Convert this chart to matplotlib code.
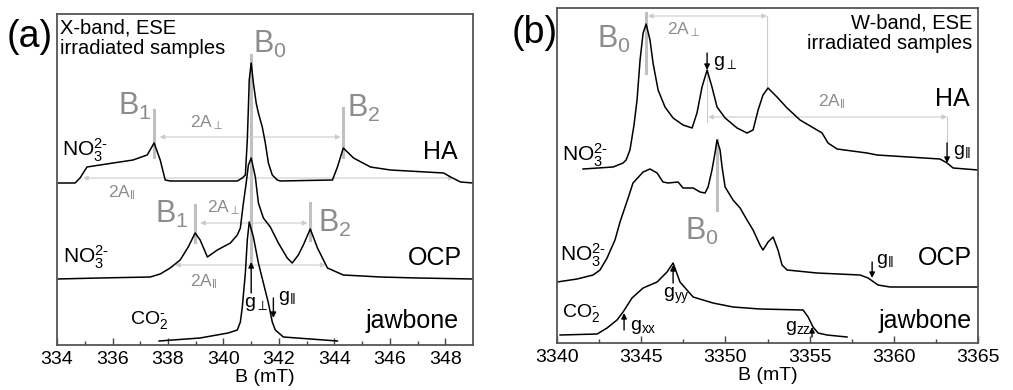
import matplotlib
matplotlib.use("Agg")
import matplotlib.pyplot as plt

plt.rcParams['font.family'] = ['Liberation Sans', 'DejaVu Sans']
plt.rcParams['mathtext.fontset'] = 'custom'
plt.rcParams['mathtext.rm'] = 'Liberation Sans'
plt.rcParams['mathtext.it'] = 'Liberation Sans'
plt.rcParams['mathtext.sf'] = 'Liberation Sans'

# ---- panel (a): X-band ESE spectra (B in mT, intensity in arbitrary units)
a_ha_B = [334.00, 334.65, 334.83, 335.08, 335.55, 336.74, 337.25, 337.50, 337.72, 337.90,
          338.08, 340.50, 340.68, 340.79, 340.86, 340.90, 340.93, 341.00, 341.08, 341.18,
          341.26, 341.40, 341.51, 341.62, 341.76, 341.94, 342.05, 343.93, 344.11, 344.32,
          344.69, 345.30, 346.02, 347.94, 348.19, 348.55, 349.00]
a_ha_I = [162, 162, 167, 178, 180, 185, 190, 202, 185, 165,
          164, 164, 167, 170, 205, 238, 265, 282, 262, 242,
          232, 218, 202, 182, 170, 165, 164, 165, 178, 197,
          187, 178, 175, 172, 168, 163, 162]

a_ocp_B = [334.00, 335.55, 337.36, 337.72, 338.08, 338.44, 338.73, 338.98, 339.16, 339.42,
           339.78, 340.25, 340.50, 340.61, 340.71, 340.82, 340.90, 341.00, 341.15, 341.26,
           341.44, 341.69, 341.98, 342.30, 342.48, 342.70, 342.88, 343.13, 343.39, 343.75,
           344.32, 345.66, 347.00, 349.00]
a_ocp_I = [66, 67, 68, 71, 77, 85, 98, 112, 105, 88,
           95, 102, 110, 117, 140, 162, 180, 187, 168, 142,
           127, 118, 102, 87, 82, 90, 100, 116, 97, 77,
           70, 68, 67, 66]

a_jaw_B = [337.68, 339.16, 340.17, 340.50, 340.61, 340.68, 340.79, 340.86, 340.93, 341.08,
           341.26, 341.44, 341.62, 341.76, 341.87, 342.16, 344.11]
a_jaw_I = [4, 7, 12, 15, 23, 38, 72, 105, 123, 108,
           82, 62, 42, 23, 15, 8, 4]

# ---- panel (b): W-band ESE spectra
b_ha_B = [3341.54, 3343.33, 3343.92, 3344.10, 3344.33, 3344.57, 3344.75, 3344.93, 3345.11, 3345.29,
          3345.52, 3345.70, 3346.00, 3346.41, 3346.89, 3347.48, 3348.02, 3348.31, 3348.61, 3348.91,
          3349.20, 3349.50, 3349.98, 3350.69, 3351.28, 3351.64, 3351.94, 3352.23, 3352.53, 3353.06,
          3353.66, 3354.43, 3355.74, 3356.09, 3356.63, 3358.41, 3359.00, 3362.74, 3363.16, 3363.52,
          3365.00]
b_ha_I = [174, 176, 180, 183, 193, 218, 243, 283, 310, 319,
          303, 280, 253, 236, 225, 218, 215, 230, 256, 273,
          256, 236, 225, 215, 210, 213, 233, 248, 255, 246,
          235, 223, 210, 200, 194, 190, 188, 184, 180, 175,
          173]

b_ocp_B = [3340.00, 3341.19, 3342.14, 3342.55, 3342.97, 3343.44, 3343.74, 3344.22, 3344.51, 3345.11,
           3345.52, 3345.94, 3346.29, 3346.59, 3347.19, 3347.48, 3348.08, 3348.49, 3348.79, 3348.97,
           3349.20, 3349.38, 3349.50, 3349.68, 3349.80, 3349.98, 3350.45, 3350.87, 3351.28, 3351.64,
           3352.05, 3352.23, 3352.53, 3352.83, 3353.12, 3353.36, 3353.66, 3355.44, 3357.99, 3358.47,
           3359.06, 3359.77, 3365.00]
b_ocp_I = [61, 64, 68, 73, 85, 103, 121, 145, 160, 171,
           174, 170, 161, 160, 161, 155, 155, 151, 150, 156,
           173, 190, 203, 193, 176, 156, 143, 135, 123, 113,
           98, 93, 101, 106, 93, 78, 73, 70, 68, 65,
           58, 56, 56]

b_jaw_B = [3340.18, 3342.38, 3342.97, 3343.56, 3343.92, 3344.45, 3345.11, 3345.94, 3346.53, 3346.89,
           3347.30, 3348.08, 3349.26, 3350.45, 3352.05, 3354.61, 3354.91, 3355.20, 3355.50, 3356.03,
           3357.22]
b_jaw_I = [8, 9, 15, 23, 31, 45, 55, 61, 71, 80,
           61, 46, 40, 36, 34, 33, 26, 16, 10, 8,
           6]

GRAY_TXT = '#8c8c8c'
GRAY_LINE = '#c0c0c0'
GRAY_ARR = '#cccccc'

FS_SAMPLE = 18   # HA / OCP / jawbone
FS_RAD = 15      # NO3 2-
FS_CO2 = 14
FS_B = 22
FS_A = 12.5
FS_G = 14

NO3 = r'NO$_3^{2\text{-}}$'
CO2 = r'CO$_2^{\text{-}}$'

fig = plt.figure(figsize=(10.13, 3.9), dpi=100)
axa = fig.add_axes([0.0563, 0.1154, 0.4107, 0.8487])
axb = fig.add_axes([0.5499, 0.1205, 0.4156, 0.8590])


def style_axis(ax, xlim, ylim, major, minor):
    ax.set_xlim(*xlim)
    ax.set_ylim(*ylim)
    ax.set_xticks(major)
    ax.set_xticks(minor, minor=True)
    ax.set_yticks([])
    ax.tick_params(axis='x', which='major', direction='in', length=5, width=1,
                   labelsize=14, pad=4, color='#444444')
    ax.tick_params(axis='x', which='minor', direction='in', length=3, width=1, color='#444444')
    for s in ax.spines.values():
        s.set_color('#555555')
        s.set_linewidth(1.3)
    ax.set_xlabel('B (mT)', fontsize=14, labelpad=1)


def vline(ax, x, y0, y1):
    ax.plot([x, x], [y0, y1], color=GRAY_LINE, lw=2.2, zorder=1)


def span_arrow(ax, x0, x1, y):
    ax.annotate('', xy=(x1, y), xytext=(x0, y),
                arrowprops=dict(arrowstyle='<|-|>', color=GRAY_ARR, lw=0.8,
                                mutation_scale=7, shrinkA=0, shrinkB=0), zorder=1)


def g_arrow(ax, x, y_tail, y_tip):
    ax.annotate('', xy=(x, y_tip), xytext=(x, y_tail),
                arrowprops=dict(arrowstyle='-|>', color='black', lw=1.0,
                                mutation_scale=8, shrinkA=0, shrinkB=0), zorder=3)


# ---------------- panel (a)
ax = axa
style_axis(ax, (334, 349), (0, 331), range(334, 349, 2), range(335, 349, 2))
for B, I in [(a_ha_B, a_ha_I), (a_ocp_B, a_ocp_I), (a_jaw_B, a_jaw_I)]:
    ax.plot(B, I, color='black', lw=1.1, zorder=2)

ax.text(334.1, 327, 'X-band, ESE\nirradiated samples', fontsize=14.5, va='top',
        ha='left', linespacing=1.1)
# HA
vline(ax, 337.50, 188, 235)
vline(ax, 341.00, 78, 290)
vline(ax, 344.32, 188, 237)
ax.text(336.20, 230, r'B$_1$', fontsize=FS_B, color=GRAY_TXT, va='baseline')
ax.text(341.08, 292, r'B$_0$', fontsize=FS_B, color=GRAY_TXT, va='baseline')
ax.text(344.47, 228, r'B$_2$', fontsize=FS_B, color=GRAY_TXT, va='baseline')
span_arrow(ax, 337.70, 344.22, 208)
ax.text(338.80, 222, r'2A$_\perp$', fontsize=FS_A, color=GRAY_TXT, va='center')
span_arrow(ax, 334.94, 348.30, 167)
ax.text(335.84, 152, r'2A$_{\Vert}$', fontsize=FS_A, color=GRAY_TXT, va='center')
ax.text(334.18, 195, NO3, fontsize=FS_RAD, va='center')
ax.text(347.83, 193, 'HA', fontsize=FS_SAMPLE, va='center', ha='center')
# OCP
vline(ax, 338.98, 103, 140)
vline(ax, 343.13, 105, 142)
ax.text(337.54, 122, r'B$_1$', fontsize=FS_B, color=GRAY_TXT, va='baseline')
ax.text(343.42, 113, r'B$_2$', fontsize=FS_B, color=GRAY_TXT, va='baseline')
span_arrow(ax, 339.16, 343.03, 122)
ax.text(339.42, 137, r'2A$_\perp$', fontsize=FS_A, color=GRAY_TXT, va='center')
span_arrow(ax, 338.26, 343.68, 80)
ax.text(338.80, 63, r'2A$_{\Vert}$', fontsize=FS_A, color=GRAY_TXT, va='center')
ax.text(334.22, 88, NO3, fontsize=FS_RAD, va='center')
ax.text(347.61, 87, 'OCP', fontsize=FS_SAMPLE, va='center', ha='center')
# jawbone
g_arrow(ax, 341.00, 52, 83)
ax.text(340.75, 41, r'g$_\perp$', fontsize=FS_G, va='center')
g_arrow(ax, 341.80, 47, 27)
ax.text(341.98, 47, r'g$_{\Vert}$', fontsize=FS_G, va='center')
ax.text(336.64, 25, CO2, fontsize=FS_CO2, va='center')
ax.text(346.82, 24, 'jawbone', fontsize=FS_SAMPLE, va='center', ha='center')

# ---------------- panel (b)
ax = axb
style_axis(ax, (3340, 3365), (0, 335), range(3340, 3366, 5),
           [3342.5, 3347.5, 3352.5, 3357.5, 3362.5])
for B, I in [(b_ha_B, b_ha_I), (b_ocp_B, b_ocp_I), (b_jaw_B, b_jaw_I)]:
    ax.plot(B, I, color='black', lw=1.1, zorder=2)

ax.text(3364.64, 329, 'W-band, ESE\nirradiated samples', fontsize=14.5, va='top',
        ha='right', multialignment='right', linespacing=1.1)
# HA
vline(ax, 3345.29, 270, 330)
ax.text(3342.38, 295, r'B$_0$', fontsize=FS_B, color=GRAY_TXT, va='baseline')
span_arrow(ax, 3345.40, 3352.47, 327)
ax.plot([3352.47, 3352.47], [255, 327], color=GRAY_ARR, lw=0.8, zorder=1)
ax.text(3346.53, 313, r'2A$_\perp$', fontsize=FS_A, color=GRAY_TXT, va='center')
ax.plot([3348.91, 3348.91], [221, 273], color=GRAY_ARR, lw=0.8, zorder=1)
g_arrow(ax, 3348.91, 290, 273)
ax.text(3349.26, 280, r'g$_\perp$', fontsize=FS_G, va='center')
span_arrow(ax, 3348.97, 3363.16, 226)
ax.text(3355.50, 241, r'2A$_{\Vert}$', fontsize=FS_A, color=GRAY_TXT, va='center')
ax.plot([3363.16, 3363.16], [200, 226], color=GRAY_ARR, lw=0.8, zorder=1)
g_arrow(ax, 3363.16, 200, 180)
ax.text(3363.52, 191, r'g$_{\Vert}$', fontsize=FS_G, va='center')
ax.text(3364.52, 244, 'HA', fontsize=FS_SAMPLE, va='center', ha='right')
ax.text(3340.30, 188, NO3, fontsize=FS_RAD, va='center')
# OCP
vline(ax, 3349.50, 133, 203)
ax.text(3347.60, 103, r'B$_0$', fontsize=FS_B, color=GRAY_TXT, va='baseline')
ax.text(3340.18, 88, NO3, fontsize=FS_RAD, va='center')
g_arrow(ax, 3358.71, 81, 65)
ax.text(3358.94, 82, r'g$_{\Vert}$', fontsize=FS_G, va='center')
ax.text(3364.64, 85, 'OCP', fontsize=FS_SAMPLE, va='center', ha='right')
# jawbone
ax.text(3340.30, 30, CO2, fontsize=FS_CO2, va='center')
g_arrow(ax, 3343.98, 13, 30)
ax.text(3344.33, 16, r'g$_\mathrm{xx}$', fontsize=FS_G, va='center')
g_arrow(ax, 3346.89, 60, 78)
ax.text(3346.29, 47, r'g$_\mathrm{yy}$', fontsize=FS_G, va='center')
g_arrow(ax, 3355.14, 6, 16)
ax.text(3353.54, 15, r'g$_\mathrm{zz}$', fontsize=FS_G, va='center')
ax.text(3364.64, 22, 'jawbone', fontsize=FS_SAMPLE, va='center', ha='right')

fig.text(30 / 1013, 1 - 37 / 390, '(a)', fontsize=27, ha='center', va='center')
fig.text(535 / 1013, 1 - 33 / 390, '(b)', fontsize=27, ha='center', va='center')

fig.savefig('out.png', dpi=100)
